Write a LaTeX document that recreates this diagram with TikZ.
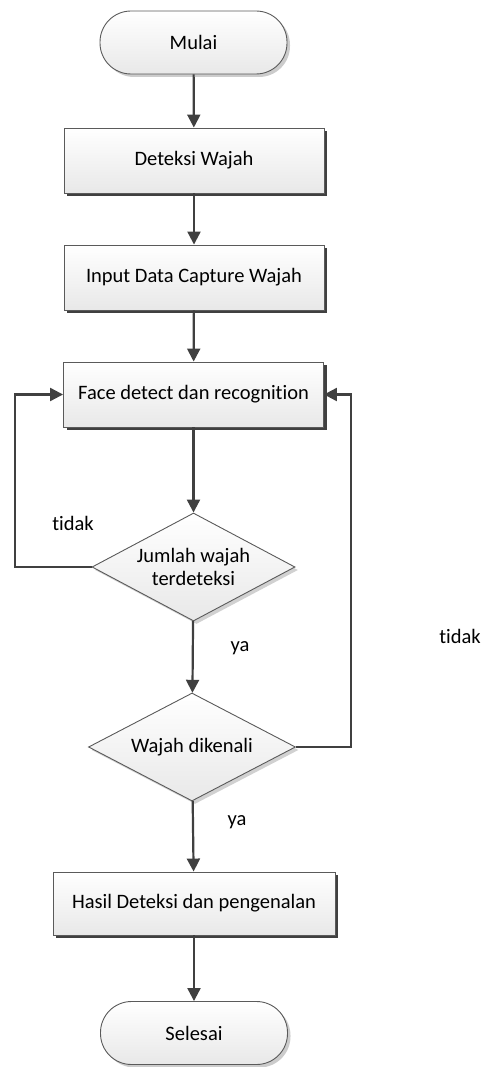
\documentclass[tikz,border=0pt]{standalone}
\usepackage{fontspec}
\setmainfont{Carlito}[Ligatures=NoCommon]
\usetikzlibrary{arrows.meta,shapes.geometric,shadows}
\definecolor{edge}{HTML}{5A5A5A}
\definecolor{conn}{HTML}{404040}
\begin{document}
\begin{tikzpicture}[x=1pt,y=-1pt,
  font=\fontsize{20.5}{24}\selectfont,
  boxbase/.style={draw=edge, line width=0.9pt, top color=white, bottom color=black!9, inner sep=0pt},
  procbox/.style={boxbase, rectangle, minimum height=65pt,
    drop shadow={shadow xshift=3pt, shadow yshift=-3pt, fill=black!75, opacity=1}},
  termbox/.style={boxbase, rectangle, rounded corners=31pt, minimum width=187pt, minimum height=63pt,
    drop shadow={shadow xshift=3pt, shadow yshift=-3pt, fill=black!20, opacity=1}},
  decbox/.style={boxbase, diamond, minimum height=108pt,
    drop shadow={shadow xshift=3pt, shadow yshift=-3pt, fill=black!18, opacity=1}},
  conn/.style={draw=conn, line width=2.2pt, -{Triangle[length=13pt,width=13pt]}},
  lbl/.style={font=\fontsize{20.5}{24}\selectfont}
]
\useasboundingbox (0,0) rectangle (485,1067);
\node[termbox] (mulai) at (193.5,42.5) {Mulai};
\node[procbox, minimum width=260pt] (det) at (194,160.5) {Deteksi Wajah};
\node[procbox, minimum width=260pt] (inp) at (194,277.5) {Input Data Capture Wajah};
\node[procbox, minimum width=260pt] (face) at (193.5,394.5) {Face detect dan recognition};
\node[decbox, minimum width=203pt,
  label={[align=center, font=\fontsize{20.5}{22.5}\selectfont]center:Jumlah wajah\\terdeteksi}] (d1) at (193.5,567) {};
\node[decbox, minimum width=207pt,
  label={center:Wajah dikenali}] (d2) at (192,747) {};
\node[procbox, minimum width=282pt, minimum height=63pt] (hasil) at (194,903.5) {Hasil Deteksi dan pengenalan};
\node[termbox] (selesai) at (194,1033) {Selesai};

\coordinate (l1) at (15,567);
\coordinate (l2) at (15,394.5);
\coordinate (r1) at (351,747);
\coordinate (r2) at (351,394.5);

\draw[conn] (mulai) -- (det);
\draw[conn] (det) -- (inp);
\draw[conn] (inp) -- (face);
\draw[conn] (face) -- (d1);
\draw[conn] (d1) -- (d2);
\draw[conn] (d2) -- (hasil);
\draw[conn] (hasil) -- (selesai);
\draw[conn] (d1.west) -- (l1) -- (l2) -- (face.west);
\draw[conn] (d2.east) -- (r1) -- (r2) -- (face.east);

\node[lbl] (t1) at (73,523) {tidak};
\node[lbl] (y1) at (240,648) {ya};
\node[lbl] (t2) at (460,636) {tidak};
\node[lbl] (y2) at (237,822) {ya};
\end{tikzpicture}
\end{document}
